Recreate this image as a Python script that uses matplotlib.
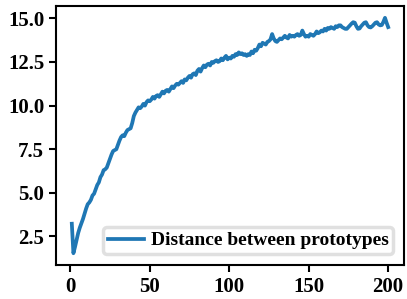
import matplotlib
matplotlib.use('Agg')
import matplotlib.pyplot as plt

plt.rcParams['font.family'] = ['Liberation Serif', 'DejaVu Serif']
plt.rcParams['font.weight'] = 'bold'

# distance between the two prototypes, one value per epoch
epochs = list(range(1, 201))
distance = [
    3.23, 1.54, 1.9, 2.3, 2.7, 3.0, 3.25, 3.5, 3.8, 4.1,
    4.35, 4.45, 4.6, 4.85, 4.95, 5.2, 5.45, 5.6, 5.9, 6.05,
    6.3, 6.35, 6.45, 6.7, 6.95, 7.2, 7.4, 7.45, 7.5, 7.75,
    8.0, 8.2, 8.3, 8.25, 8.45, 8.6, 8.65, 8.7, 9.0, 9.4,
    9.6, 9.75, 9.9, 9.85, 9.95, 10.1, 10.0, 10.2, 10.3, 10.25,
    10.35, 10.5, 10.4, 10.55, 10.6, 10.5, 10.65, 10.8, 10.7, 10.85,
    10.9, 10.8, 10.95, 11.1, 11.0, 11.15, 11.25, 11.2, 11.3, 11.4,
    11.3, 11.5, 11.45, 11.6, 11.7, 11.6, 11.8, 11.85, 11.75, 12.0,
    12.1, 11.95, 12.15, 12.3, 12.2, 12.35, 12.4, 12.3, 12.5, 12.45,
    12.55, 12.6, 12.5, 12.55, 12.7, 12.6, 12.75, 12.85, 12.65, 12.75,
    12.7, 12.85, 12.8, 12.95, 12.9, 13.05, 12.95, 13.0, 12.9, 12.95,
    12.85, 12.95, 12.9, 13.1, 13.0, 13.2, 13.15, 13.3, 13.5, 13.4,
    13.6, 13.55, 13.5, 13.65, 13.7, 13.8, 14.1, 13.85, 13.7, 13.65,
    13.75, 13.85, 13.8, 13.9, 14.0, 13.9, 13.85, 14.05, 13.95, 14.0,
    13.95, 14.05, 14.1, 14.0, 14.05, 14.3, 14.1, 13.95, 14.0, 13.95,
    14.1, 14.05, 14.0, 14.1, 14.25, 14.15, 14.2, 14.3, 14.25, 14.4,
    14.3, 14.45, 14.4, 14.5, 14.45, 14.4, 14.55, 14.5, 14.6, 14.6,
    14.5, 14.45, 14.4, 14.4, 14.5, 14.6, 14.7, 14.78, 14.75, 14.55,
    14.4, 14.42, 14.55, 14.65, 14.75, 14.78, 14.6, 14.5, 14.48, 14.55,
    14.65, 14.75, 14.78, 14.65, 14.6, 14.62, 14.8, 15.03, 14.75, 14.5,
]

fig = plt.figure(figsize=(4.07, 2.99), dpi=100)
ax = fig.add_axes([0.1376, 0.1137, 0.855, 0.866])
ax.plot(epochs, distance, color='#1f77b4', linewidth=2.7, label='Distance between prototypes')

ax.set_yticks([2.5, 5.0, 7.5, 10.0, 12.5, 15.0])
ax.set_xticks([0, 50, 100, 150, 200])
ax.tick_params(labelsize=15, length=5, width=1.5)
for lab in ax.get_xticklabels() + ax.get_yticklabels():
    lab.set_fontweight('bold')
for sp in ax.spines.values():
    sp.set_linewidth(1.5)

leg = ax.legend(loc='lower right', prop={'size': 14, 'weight': 'bold'},
                handlelength=1.83, handletextpad=0.35, borderpad=0.25,
                borderaxespad=0.55)
leg.get_frame().set_linewidth(2.5)
leg.get_frame().set_edgecolor('0.85')

fig.savefig('out.png', dpi=100)
